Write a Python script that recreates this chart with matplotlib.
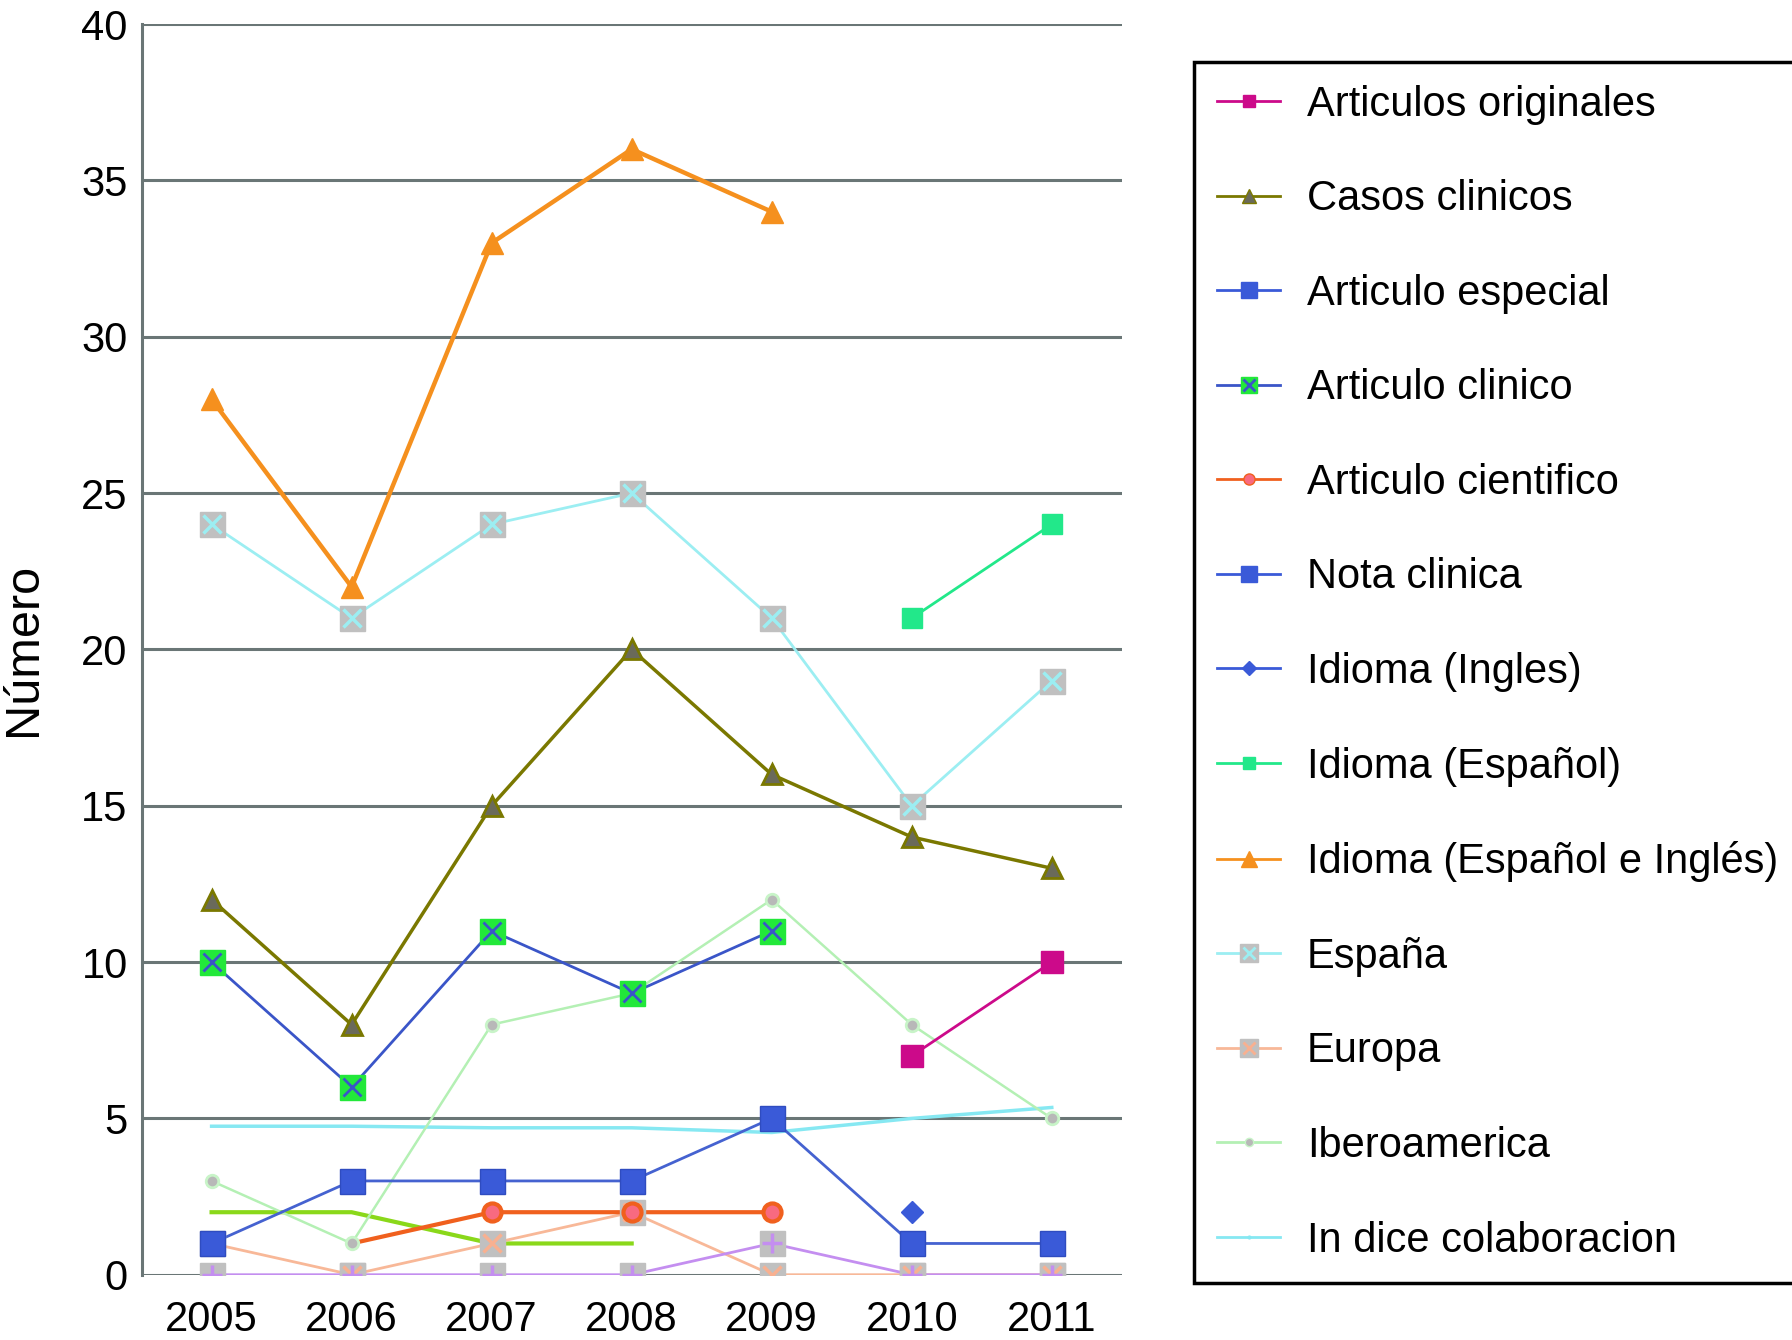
import numpy as np
import matplotlib
matplotlib.use("Agg")
import matplotlib.pyplot as plt
from matplotlib.lines import Line2D

plt.rcParams["font.family"] = ["Liberation Sans", "DejaVu Sans"]

# Years on the x axis
years = ["2005", "2006", "2007", "2008", "2009", "2010", "2011"]
nan = np.nan

# Series values (NaN = no point)
articulos_originales = [nan, nan, nan, nan, nan, 7, 10]
casos_clinicos = [12, 8, 15, 20, 16, 14, 13]
articulo_especial = [nan, nan, nan, nan, nan, nan, nan]
articulo_clinico = [10, 6, 11, 9, 11, nan, nan]
articulo_cientifico = [nan, 1, 2, 2, 2, nan, nan]
nota_clinica = [1, 3, 3, 3, 5, 1, 1]
idioma_ingles = [nan, nan, nan, nan, nan, 2, nan]
idioma_espanol = [nan, nan, nan, nan, nan, 21, 24]
idioma_esp_ing = [28, 22, 33, 36, 34, nan, nan]
espana = [24, 21, 24, 25, 21, 15, 19]
europa = [1, 0, 1, 2, 0, 0, 0]
iberoamerica = [3, 1, 8, 9, 12, 8, 5]
indice_colaboracion = [4.75, 4.75, 4.7, 4.7, 4.55, 5.0, 5.35]
# two unlabelled series that appear in the plot but not in the legend
sin_nombre_verde = [2, 2, 1, 1, nan, nan, nan]
sin_nombre_lila = [0, 0, 0, 0, 1, 0, 0]

x = np.arange(len(years))
GRAY = "#c0c0c0"

fig = plt.figure(figsize=(17.92, 13.4), dpi=100)
ax = fig.add_axes([0.079, 0.0487, 0.547, 0.9333])

for yv in range(5, 45, 5):
    ax.axhline(yv, color="#6a7676", lw=2.2, zorder=0)
ax.axhline(0, color="#6a7676", lw=2.2, zorder=0)

# lines
ax.plot(x, indice_colaboracion, color="#86e8f2", lw=2.5, zorder=2)
ax.plot(x, sin_nombre_verde, color="#8ad81a", lw=3, zorder=2)
ax.plot(x, europa, color="#f8b898", lw=2, zorder=2)
ax.plot(x, sin_nombre_lila, color="#c48ef0", lw=2, zorder=2)
ax.plot(x, iberoamerica, color="#b4f0b4", lw=1.8, zorder=2)
ax.plot(x, espana, color="#9ceef2", lw=2, zorder=2)
ax.plot(x, articulo_cientifico, color="#f0601e", lw=3, zorder=3)
ax.plot(x, nota_clinica, color="#4562d0", lw=2, zorder=3)
ax.plot(x, articulo_clinico, color="#3a55c8", lw=2, zorder=3)
ax.plot(x, casos_clinicos, color="#7a7800", lw=2.5, zorder=3)
ax.plot(x, idioma_esp_ing, color="#f5901e", lw=3.2, zorder=3)
ax.plot(x, idioma_espanol, color="#22e88a", lw=2, zorder=3)
ax.plot(x, articulos_originales, color="#cc0a8a", lw=2, zorder=3)

# markers
ax.plot(x, europa, ls="none", marker="s", ms=18, mfc=GRAY, mec=GRAY, zorder=4)
ax.plot(x, europa, ls="none", marker="x", ms=13, mec="#f8b090", mew=2.5, zorder=5)
ax.plot(x, sin_nombre_lila, ls="none", marker="s", ms=18, mfc=GRAY, mec=GRAY, zorder=4)
ax.plot(x, sin_nombre_lila, ls="none", marker="+", ms=15, mec="#c48ef0", mew=2.5, zorder=5)
ax.plot(x, iberoamerica, ls="none", marker="o", ms=9, mfc="#b8b8b8", mec="#c8f4c8", mew=2, zorder=4)
ax.plot(x, espana, ls="none", marker="s", ms=18, mfc=GRAY, mec=GRAY, zorder=4)
ax.plot(x, espana, ls="none", marker="x", ms=13, mec="#9ceef2", mew=2.5, zorder=5)
ax.plot(x[2:], articulo_cientifico[2:], ls="none", marker="o", ms=13, mfc="#f86a80", mec="#f0601e", mew=3, zorder=5)
ax.plot(x, nota_clinica, ls="none", marker="s", ms=18, mfc="#3a5ad8", mec="#2f4cc0", zorder=5)
ax.plot(x, articulo_clinico, ls="none", marker="s", ms=18, mfc="#22e83a", mec="#22e83a", zorder=5)
ax.plot(x, articulo_clinico, ls="none", marker="x", ms=13, mec="#3a55c8", mew=2, zorder=6)
ax.plot(x, casos_clinicos, ls="none", marker="^", ms=15, mfc="#6a6a5a", mec="#7a7800", mew=2, zorder=5)
ax.plot(x, idioma_esp_ing, ls="none", marker="^", ms=16, mfc="#f5901e", mec="#f5901e", zorder=5)
ax.plot(x, idioma_espanol, ls="none", marker="s", ms=15, mfc="#22e88a", mec="#22e88a", zorder=5)
ax.plot(x, articulos_originales, ls="none", marker="s", ms=16, mfc="#cc0a8a", mec="#cc0a8a", zorder=5)
ax.plot(x, idioma_ingles, ls="none", marker="D", ms=11, mfc="#3a5ad8", mec="#3a5ad8", zorder=5)

ax.set_xlim(-0.5, 6.5)
ax.set_ylim(0, 40)
ax.set_yticks(range(0, 45, 5))
ax.set_xticks(x)
ax.set_xticklabels(years)
ax.tick_params(axis="both", length=0, labelsize=30, pad=10)
ax.tick_params(axis="x", pad=18)
for s in ["top", "right", "bottom"]:
    ax.spines[s].set_visible(False)
ax.spines["left"].set_color("#6a7676")
ax.spines["left"].set_linewidth(2.2)
ax.set_ylabel("Número", fontsize=35)
ax.yaxis.set_label_coords(-0.097, 0.5)

# legend handles
def h(color, marker=None, ms=10, mfc=None, mec=None, lw=2):
    return Line2D([], [], color=color, lw=lw, marker=marker, ms=ms,
                  mfc=mfc if mfc else color, mec=mec if mec else color)

def over(marker, ms, color, mew=2):
    return Line2D([], [], ls="none", marker=marker, ms=ms, mec=color, mew=mew)

handles = [
    h("#cc0a8a", "s", 9),
    h("#7a7800", "^", 10, mfc="#6a6a5a"),
    h("#3a5ad8", "s", 12),
    (h("#3a55c8", "s", 12, mfc="#22e83a", mec="#22e83a"), over("x", 8, "#3a55c8")),
    h("#f0601e", "o", 8, mfc="#f86a80"),
    h("#3a5ad8", "s", 12),
    h("#3a5ad8", "D", 7),
    h("#22e88a", "s", 9),
    h("#f5901e", "^", 12),
    (h("#9ceef2", "s", 13, mfc=GRAY, mec=GRAY), over("x", 9, "#9ceef2")),
    (h("#f8b898", "s", 13, mfc=GRAY, mec=GRAY), over("x", 9, "#f8b090")),
    h("#b4f0b4", "o", 6, mfc="#b8b8b8", mec="#c8f4c8"),
    h("#86e8f2", ".", 4),
]
labels = ["Articulos originales", "Casos clinicos", "Articulo especial",
          "Articulo clinico", "Articulo cientifico", "Nota clinica",
          "Idioma (Ingles)", "Idioma (Español)", "Idioma (Español e Inglés)",
          "España", "Europa", "Iberoamerica", "In dice colaboracion"]

leg = fig.legend(handles, labels, loc="upper left",
                 bbox_to_anchor=(0.6665, 0.954), borderaxespad=0,
                 fontsize=30, frameon=True, fancybox=False, edgecolor="black",
                 framealpha=1, borderpad=0.55, labelspacing=1.31,
                 handlelength=1.5, handletextpad=0.65)
leg.get_frame().set_linewidth(2.5)

fig.savefig("out.png", dpi=100)
